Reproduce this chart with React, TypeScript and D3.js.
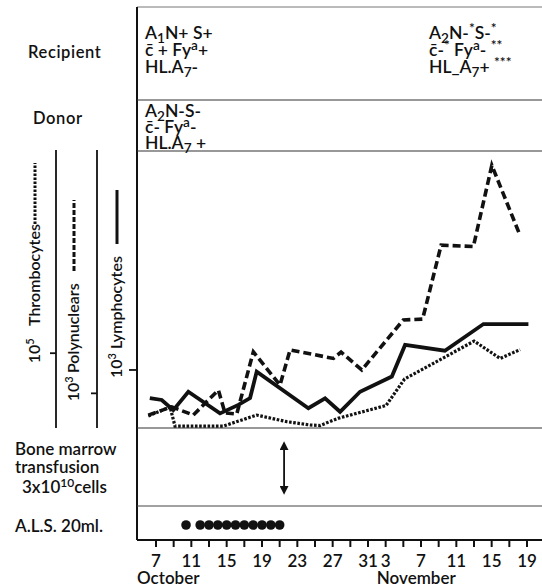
import * as d3 from "d3";

// x positions are in drawn-axis days counted from Oct 7 (each tick = 2 days)
const dayTicks = [0, 2, 4, 6, 8, 10, 12, 14, 16, 18, 20, 22, 24, 26, 28, 30, 32, 34, 36, 38, 40, 42];
const dayLabels: [number, string][] = [
  [0, "7"], [4, "11"], [8, "15"], [12, "19"], [16, "23"], [20, "27"], [24, "31"],
  [26, "3"], [30, "7"], [34, "11"], [38, "15"], [42, "19"],
];

// relative level (0 = bottom of panel, 100 = top)
const lymphoDays = [-0.7, 0.65, 1.96, 3.66, 7.25, 9.32, 10.65, 11.4, 17.25, 19.14, 20.84, 23.1, 26.7, 28.2, 32.7, 37.07, 42.16];
const lymphoVals = [10.9, 10.2, 6.5, 13.2, 5.3, 8.4, 10.9, 20.5, 7.2, 10.8, 5.9, 13.2, 18.7, 30.2, 28.1, 37.8, 37.8];

const polyDays = [-0.87, 1.78, 4.22, 7.06, 7.81, 9.14, 11.02, 14.04, 15.18, 20.08, 20.95, 23.3, 28.0, 30.18, 32.28, 35.93, 38.02, 41.19];
const polyVals = [4.7, 7.7, 4.7, 13.8, 5.5, 5.1, 27.7, 15.6, 28.4, 25.3, 27.6, 21.1, 39.3, 39.6, 66.5, 66.0, 95.5, 70.2];

const thromboDays = [-0.87, 1.59, 2.15, 7.62, 11.4, 14.8, 17.44, 18.57, 20.6, 26.05, 28.14, 36.01, 38.96, 41.22];
const thromboVals = [4.4, 7.6, 0.7, 0.7, 4.7, 2.3, 1.1, 0.9, 3.5, 8.2, 17.8, 31.6, 25.3, 28.5];

// axis reference ticks (same relative level)
const thromboTick = 27.2; // 10^5
const polyTick = 12.6; // 10^3
const lymphoTick = 21.1; // 10^3

const alsDays = [3.4, 5, 6, 7, 8, 9, 10, 11, 12, 13, 14];
const transfusionDay = 14.5;

type Seg = [string, "n" | "sub" | "sup"];
const recipientLeft: Seg[][] = [
  [["A", "n"], ["1", "sub"], ["N+ S+", "n"]],
  [["c\u0304 + Fy", "n"], ["a", "sup"], ["+", "n"]],
  [["HL.A", "n"], ["7", "sub"], ["-", "n"]],
];
const recipientRight: Seg[][] = [
  [["A", "n"], ["2", "sub"], ["N-", "n"], ["*", "sup"], ["S-", "n"], ["*", "sup"]],
  [["c\u0304-", "n"], ["*", "sup"], [" Fy", "n"], ["a", "sup"], ["- ", "n"], ["**", "sup"]],
  [["HL_A", "n"], ["7", "sub"], ["+ ", "n"], ["***", "sup"]],
];
const donorLines: Seg[][] = [
  [["A", "n"], ["2", "sub"], ["N-S-", "n"]],
  [["c\u0304- Fy", "n"], ["a", "sup"], ["-", "n"]],
  [["HL.A", "n"], ["7", "sub"], [" +", "n"]],
];

const FONT = "Lato, 'DejaVu Sans', sans-serif";
const WEIGHT = 600;
const W = 542;
const H = 588;
const LEFT = 137;
const TOP = 7;
const ROW1 = 100;
const ROW2 = 151;
const ROW3 = 428;
const ROW4 = 506;
const AXIS = 540;

function Rich({ x, y, segs, size = 17.5 }: { x: number; y: number; segs: Seg[]; size?: number }) {
  let cur = 0;
  return (
    <text x={x} y={y} fontSize={size} fontFamily={FONT} fontWeight={WEIGHT} fill="#111">
      {segs.map(([t, k], i) => {
        const target = k === "sub" ? 4 : k === "sup" ? -6 : 0;
        const dy = target - cur;
        cur = target;
        return (
          <tspan key={i} dy={dy} fontSize={k === "n" ? size : size * 0.78}>
            {t}
          </tspan>
        );
      })}
    </text>
  );
}

export default function App() {
  const x = d3.scaleLinear().domain([0, 42]).range([156, 527]);
  const y = d3.scaleLinear().domain([0, 100]).range([ROW3, 153]);

  const mk = (days: number[], vals: number[]) =>
    d3.line<number>().x((_, i) => x(days[i])).y((v) => y(v))(vals) ?? "";

  const lympho = mk(lymphoDays, lymphoVals);
  const poly = mk(polyDays, polyVals);
  const thrombo = mk(thromboDays, thromboVals);

  const axisX = [{ x: 56, tick: thromboTick }, { x: 97, tick: polyTick }];

  return (
    <div style={{ position: "absolute", left: 0, top: 0 }}>
      <svg width={W} height={H} style={{ display: "block", background: "#fff" }}>
        {/* frame */}
        <line x1={LEFT} x2={W} y1={TOP} y2={TOP} stroke="#777" strokeWidth={1} />
        <line x1={LEFT} x2={LEFT} y1={TOP} y2={AXIS} stroke="#111" strokeWidth={2} />
        <line x1={LEFT} x2={W} y1={ROW1} y2={ROW1} stroke="#333" strokeWidth={1.2} />
        <line x1={LEFT} x2={W} y1={ROW2} y2={ROW2} stroke="#333" strokeWidth={1.2} />
        <line x1={LEFT} x2={W} y1={ROW3} y2={ROW3} stroke="#333" strokeWidth={1.2} />
        <line x1={LEFT} x2={W} y1={ROW4} y2={ROW4} stroke="#444" strokeWidth={1} />
        <line x1={LEFT} x2={W} y1={AXIS} y2={AXIS} stroke="#111" strokeWidth={2.2} />

        {/* header */}
        <g fontFamily={FONT} fontWeight={WEIGHT} fontSize={16.5} fill="#111">
          <text x={28} y={58} letterSpacing={0.6}>Recipient</text>
          <text x={33} y={124} letterSpacing={0.6}>Donor</text>
        </g>
        {recipientLeft.map((s, i) => <Rich key={"rl" + i} x={145} y={39 + i * 17} segs={s} />)}
        {recipientRight.map((s, i) => <Rich key={"rr" + i} x={429} y={39 + i * 17} segs={s} />)}
        {donorLines.map((s, i) => <Rich key={"d" + i} x={145} y={117 + i * 16} segs={s} />)}

        {/* left axes */}
        {axisX.map((a, i) => (
          <g key={i}>
            <line x1={a.x} x2={a.x} y1={ROW2 - 1} y2={ROW3} stroke="#111" strokeWidth={1.8} />
            <line x1={a.x - 6} x2={a.x} y1={y(a.tick)} y2={y(a.tick)} stroke="#111" strokeWidth={1.8} />
          </g>
        ))}
        <line x1={LEFT - 8} x2={LEFT} y1={y(lymphoTick)} y2={y(lymphoTick)} stroke="#111" strokeWidth={1.8} />

        {/* rotated labels */}
        <g fontFamily={FONT} fontWeight={WEIGHT} fontSize={16} fill="#111">
          <text transform={`translate(40,${y(thromboTick) + 10}) rotate(-90)`}>
            10<tspan dy={-6} fontSize={11}>5</tspan>
          </text>
          <text transform="translate(40,326) rotate(-90)">Thrombocytes</text>
          <text transform={`translate(79,${y(polyTick) + 8}) rotate(-90)`}>
            10<tspan dy={-6} fontSize={11}>3</tspan>
          </text>
          <text transform="translate(79,373) rotate(-90)">Polynuclears</text>
          <text transform={`translate(122,${y(lymphoTick) + 8}) rotate(-90)`}>
            10<tspan dy={-6} fontSize={11}>3</tspan>
          </text>
          <text transform="translate(122,349) rotate(-90)">Lymphocytes</text>
        </g>
        <line x1={35} x2={35} y1={224} y2={163} stroke="#111" strokeWidth={3} strokeDasharray="2.5 1.5" />
        <line x1={74} x2={74} y1={271} y2={200} stroke="#111" strokeWidth={3} strokeDasharray="5 2" />
        <line x1={117} x2={117} y1={244} y2={190} stroke="#111" strokeWidth={3} />

        {/* series */}
        <path d={thrombo} fill="none" stroke="#111" strokeWidth={3.2} strokeDasharray="2.6 1.6" />
        <path d={poly} fill="none" stroke="#111" strokeWidth={3.6} strokeDasharray="8 4" />
        <path d={lympho} fill="none" stroke="#111" strokeWidth={3.8} strokeLinejoin="miter" />

        {/* bone marrow section */}
        <g fontFamily={FONT} fontWeight={WEIGHT} fontSize={17} fill="#111">
          <text x={15} y={455}>Bone marrow</text>
          <text x={15} y={473}>transfusion</text>
          <text x={22} y={493}>
            3x10<tspan dy={-6} fontSize={12}>10</tspan>
            <tspan dy={6}>cells</tspan>
          </text>
          <text x={15} y={532}>A.L.S. 20ml.</text>
        </g>
        <defs>
          <marker id="ah" viewBox="0 0 10 10" refX={8} refY={5} markerWidth={5} markerHeight={5} orient="auto-start-reverse">
            <path d="M0,0 L10,5 L0,10 z" fill="#111" />
          </marker>
        </defs>
        <line
          x1={x(transfusionDay)}
          x2={x(transfusionDay)}
          y1={443}
          y2={493}
          stroke="#111"
          strokeWidth={1.8}
          markerStart="url(#ah)"
          markerEnd="url(#ah)"
        />
        {alsDays.map((d, i) => (
          <circle key={i} cx={x(d)} cy={525} r={4.8} fill="#111" />
        ))}

        {/* bottom axis */}
        {dayTicks.map((d) => (
          <line key={d} x1={x(d)} x2={x(d)} y1={AXIS} y2={AXIS + 7} stroke="#111" strokeWidth={2} />
        ))}
        <g fontFamily={FONT} fontWeight={WEIGHT} fontSize={17} fill="#111" textAnchor="middle">
          {dayLabels.map(([d, t], i) => (
            <text key={i} x={x(d)} y={567}>{t}</text>
          ))}
        </g>
        <g fontFamily={FONT} fontWeight={WEIGHT} fontSize={17} fill="#111">
          <text x={LEFT} y={584}>October</text>
          <text x={x(25)} y={584}>November</text>
        </g>
      </svg>
    </div>
  );
}
